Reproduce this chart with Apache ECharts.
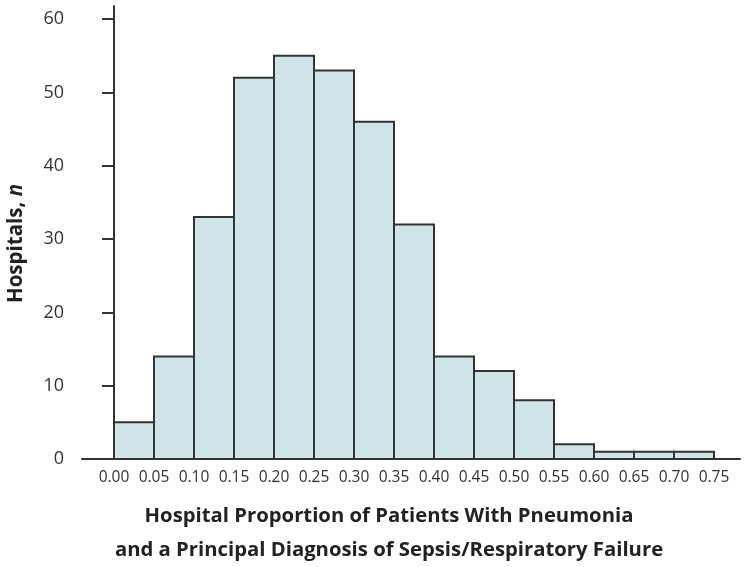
<!DOCTYPE html>
<html><head><meta charset="utf-8">
<script src="https://cdn.jsdelivr.net/npm/echarts@6/dist/echarts.min.js"></script>
<style>html,body{margin:0;padding:0;background:#fff}#c{width:750px;height:567px}</style>
</head><body><div id="c"></div>
<script>
const binEdges = [0.00,0.05,0.10,0.15,0.20,0.25,0.30,0.35,0.40,0.45,0.50,0.55,0.60,0.65,0.70,0.75];
const counts = [5,14,33,52,55,53,46,32,14,12,8,2,1,1,1];
const xTickValues = [0.00,0.05,0.10,0.15,0.20,0.25,0.30,0.35,0.40,0.45,0.50,0.55,0.60,0.65,0.70,0.75];
const yTickValues = [0,10,20,30,40,50,60];
const xTitle1 = 'Hospital Proportion of Patients With Pneumonia';
const xTitle2 = 'and a Principal Diagnosis of Sepsis/Respiratory Failure';

const data = counts.map((c,i)=>[binEdges[i], binEdges[i+1], c]);
const font = '"Open Sans", sans-serif';
const chart = echarts.init(document.getElementById('c'));
chart.setOption({
  animation:false,
  grid:{left:82,right:10,top:6,bottom:108,outerBoundsMode:'none',containLabel:false},
  xAxis:{type:'value',min:-0.04,max:0.7825,
    axisLine:{show:true,lineStyle:{color:'#333',width:2}},
    axisTick:{show:false},
    splitLine:{show:false},
    axisLabel:{customValues:xTickValues,formatter:v=>v.toFixed(2),color:'#333',fontSize:15.5,fontFamily:font,margin:11},
    name:'{a|'+xTitle1+'}\n{a|'+xTitle2+'}',nameLocation:'middle',nameGap:40,
    nameTextStyle:{padding:[0,44,0,0],rich:{a:{fontSize:20.3,fontWeight:'bold',fontFamily:font,color:'#222',lineHeight:34}}}
  },
  yAxis:{type:'value',min:0,max:61.8,
    axisLine:{show:true,lineStyle:{color:'#333',width:2}},
    axisTick:{show:true,customValues:yTickValues,length:12,lineStyle:{color:'#333',width:2}},
    splitLine:{show:false},
    axisLabel:{customValues:yTickValues,color:'#333',fontSize:18,fontFamily:font,margin:18},
    name:'{b|Hospitals, }{i|n}',nameLocation:'middle',nameGap:55,
    nameTextStyle:{padding:[0,22,0,0],rich:{b:{fontSize:20.5,fontWeight:'bold',fontFamily:font,color:'#222'},i:{fontSize:20.5,fontWeight:'bold',fontStyle:'italic',fontFamily:font,color:'#222'}}}
  },
  series:[{type:'custom',
    renderItem:(params,api)=>{
      const p0=api.coord([api.value(0),api.value(2)]);
      const p1=api.coord([api.value(1),0]);
      return {type:'rect',shape:{x:p0[0],y:p0[1],width:p1[0]-p0[0],height:p1[1]-p0[1]},
        style:{fill:'#cfe4e8',stroke:'#333',lineWidth:2}};
    },
    encode:{x:[0,1],y:2},
    data:data}]
});
</script></body></html>
